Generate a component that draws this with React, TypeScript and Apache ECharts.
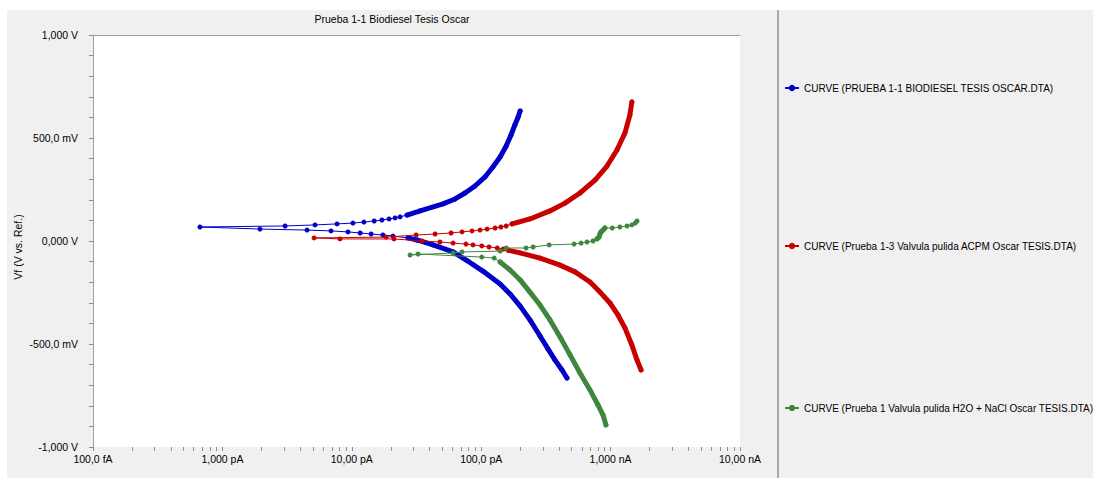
import React, { useEffect, useRef } from 'react';
import * as echarts from 'echarts';

const TITLE = 'Prueba 1-1 Biodiesel Tesis Oscar';
const Y_NAME = 'Vf (V vs. Ref.)';
const X_NAME = 'Im (A)';

const seriesNames = [
  'CURVE (PRUEBA 1-1 BIODIESEL TESIS OSCAR.DTA)',
  'CURVE (Prueba 1-3 Valvula pulida ACPM Oscar TESIS.DTA)',
  'CURVE (Prueba 1 Valvula pulida H2O + NaCl Oscar TESIS.DTA)',
];
const seriesColors = ['#0000c8', '#c80000', '#3f873f'];

const xLabelValues = [1e-13, 1e-12, 1e-11, 1e-10, 1e-9, 1e-8];
const xLabelTexts = ['100,0 fA', '1,000 pA', '10,00 pA', '100,0 pA', '1,000 nA', '10,00 nA'];
const xMinorMantissas = [1, 2, 3, 4, 5, 6, 7, 8, 9];
const yTickValues = [-1, -0.5, 0, 0.5, 1];
const yTickTexts = ['-1,000 V', '-500,0 mV', '0,000 V', '500,0 mV', '1,000 V'];

// [current (A), potential (V)] in sweep order
const blueCathodic = [
  [4.6e-10, -0.665], [4.21e-10, -0.626], [3.72e-10, -0.578], [3.28e-10, -0.524], [2.85e-10, -0.461],
  [2.38e-10, -0.383], [2.0e-10, -0.316], [1.67e-10, -0.257], [1.4e-10, -0.209], [1.03e-10, -0.146],
  [7.77e-11, -0.095], [6.06e-11, -0.053], [4.24e-11, -0.019], [3.19e-11, 0.005], [2.72e-11, 0.015],
];
const blueMid = [
  [2.08e-11, 0.024], [1.74e-11, 0.029], [1.41e-11, 0.034], [1.16e-11, 0.039], [9.35e-12, 0.044],
  [6.91e-12, 0.049], [4.51e-12, 0.053], [1.95e-12, 0.058], [6.71e-13, 0.068], [3.05e-12, 0.073],
  [5.2e-12, 0.078], [7.69e-12, 0.083], [1.02e-11, 0.087], [1.24e-11, 0.092], [1.49e-11, 0.097],
  [1.71e-11, 0.102], [1.94e-11, 0.107], [2.16e-11, 0.112], [2.36e-11, 0.117],
];
const blueAnodic = [
  [2.67e-11, 0.126], [3.37e-11, 0.146], [5.07e-11, 0.18], [6.28e-11, 0.204], [7.5e-11, 0.233],
  [8.96e-11, 0.267], [1.07e-10, 0.311], [1.23e-10, 0.359], [1.4e-10, 0.408], [1.56e-10, 0.461],
  [1.7e-10, 0.515], [1.82e-10, 0.563], [1.93e-10, 0.602], [2.0e-10, 0.631],
];

const redCathodic = [
  [1.72e-9, -0.626], [1.6e-9, -0.578], [1.46e-9, -0.505], [1.29e-9, -0.422], [1.14e-9, -0.359],
  [9.89e-10, -0.301], [8.28e-10, -0.248], [6.93e-10, -0.199], [5.31e-10, -0.15], [4.07e-10, -0.117],
  [2.85e-10, -0.083], [2.0e-10, -0.058], [1.61e-10, -0.044],
];
const redMid = [
  [1.48e-10, -0.039], [1.33e-10, -0.034], [1.15e-10, -0.029], [1.01e-10, -0.024], [8.64e-11, -0.019],
  [7.63e-11, -0.015], [6.06e-11, -0.01], [4.8e-11, -0.005], [3.49e-11, 0.0], [2.12e-11, 0.01],
  [8.11e-12, 0.01], [5.11e-12, 0.015], [1.84e-11, 0.019], [3.14e-11, 0.029], [4.4e-11, 0.034],
  [5.85e-11, 0.039], [7.11e-11, 0.044], [8.49e-11, 0.049], [9.79e-11, 0.053], [1.11e-10, 0.058],
  [1.28e-10, 0.063], [1.42e-10, 0.068], [1.56e-10, 0.073],
];
const redAnodic = [
  [1.73e-10, 0.083], [2.38e-10, 0.107], [3.4e-10, 0.146], [4.44e-10, 0.184], [5.8e-10, 0.233],
  [7.58e-10, 0.296], [9.38e-10, 0.364], [1.12e-9, 0.442], [1.29e-9, 0.524], [1.41e-9, 0.612],
  [1.46e-9, 0.675],
];

const greenCathodic = [
  [9.21e-10, -0.893], [8.74e-10, -0.845], [7.99e-10, -0.796], [6.93e-10, -0.723], [5.8e-10, -0.641],
  [4.86e-10, -0.553], [4.07e-10, -0.466], [3.4e-10, -0.383], [2.85e-10, -0.311], [2.38e-10, -0.248],
  [2.0e-10, -0.189], [1.67e-10, -0.141], [1.4e-10, -0.102],
];
const greenMid = [
  [1.26e-10, -0.083], [1.01e-10, -0.078], [3.25e-11, -0.063], [2.82e-11, -0.068], [6.06e-11, -0.058],
  [7.11e-11, -0.053], [1.4e-10, -0.049], [1.56e-10, -0.034], [2.22e-10, -0.034], [2.52e-10, -0.029],
  [3.35e-10, -0.019], [5.22e-10, -0.015], [5.91e-10, -0.01], [6.57e-10, -0.005], [7.31e-10, 0.0],
];
const greenAnodic = [
  [7.85e-10, 0.01], [8.14e-10, 0.019], [8.28e-10, 0.034], [8.43e-10, 0.044], [8.74e-10, 0.053],
  [9.05e-10, 0.063],
];
const greenTail = [
  [1.03e-9, 0.063], [1.18e-9, 0.068], [1.34e-9, 0.073], [1.46e-9, 0.078], [1.55e-9, 0.087],
  [1.6e-9, 0.097],
];

const curves = [
  { parts: [blueCathodic, blueMid, blueAnodic], dense: [blueCathodic, blueAnodic] },
  { parts: [redCathodic, redMid, redAnodic], dense: [redCathodic, redAnodic] },
  { parts: [greenCathodic, greenMid, greenAnodic, greenTail], dense: [greenCathodic, greenAnodic] },
];

const FONT = 'Arial, "Liberation Sans", sans-serif';

export default function App() {
  const ref = useRef<HTMLDivElement>(null);

  useEffect(() => {
    if (!ref.current) return;
    const chart = echarts.init(ref.current, undefined, { renderer: 'svg' });

    const xTickValues: number[] = [];
    for (let d = 0; d < xLabelValues.length - 1; d++) {
      for (const m of xMinorMantissas) xTickValues.push(m * xLabelValues[d]);
    }
    xTickValues.push(xLabelValues[xLabelValues.length - 1]);

    const xFormatter = (v: number) => {
      const i = xLabelValues.findIndex((d) => Math.abs(Math.log10(v) - Math.log10(d)) < 1e-6);
      return i >= 0 ? xLabelTexts[i] : '';
    };
    const yFormatter = (v: number) => {
      const i = yTickValues.findIndex((t) => Math.abs(t - v) < 1e-9);
      return i >= 0 ? yTickTexts[i] : '';
    };

    const series: any[] = [];
    curves.forEach((c, ci) => {
      c.dense.forEach((seg) => {
        series.push({
          type: 'line',
          name: 'dense-' + ci,
          data: seg,
          symbol: 'none',
          silent: true,
          lineStyle: { color: seriesColors[ci], width: 5, cap: 'round', join: 'round' },
          z: 2 + ci,
        });
      });
      series.push({
        type: 'line',
        name: seriesNames[ci],
        data: ([] as number[][]).concat(...c.parts),
        symbol: 'circle',
        symbolSize: 5,
        itemStyle: { color: seriesColors[ci] },
        lineStyle: { color: seriesColors[ci], width: 1 },
        z: 2 + ci,
      });
    });

    const legendTops = [73, 231, 393];

    chart.setOption({
      animation: false,
      backgroundColor: '#f0f0f0',
      textStyle: { fontFamily: FONT },
      grid: {
        left: 86,
        top: 25,
        width: 647,
        height: 412,
        show: true,
        backgroundColor: '#ffffff',
        borderWidth: 0,
      },
      xAxis: [
        {
          type: 'log',
          logBase: 10,
          min: 1e-13,
          max: 1e-8,
          position: 'bottom',
          axisLine: { show: false, onZero: false },
          axisTick: { show: true, length: 4, customValues: xTickValues, lineStyle: { color: '#8c8c8c' } },
          axisLabel: {
            customValues: xLabelValues,
            formatter: xFormatter,
            margin: 6,
            fontSize: 10.5,
            color: '#000',
            fontFamily: FONT,
          },
          splitLine: { show: false },
          minorTick: { show: false },
        },
        {
          type: 'log',
          logBase: 10,
          min: 1e-13,
          max: 1e-8,
          position: 'top',
          axisLine: { show: true, onZero: false, lineStyle: { color: '#a0a0a0', width: 1 } },
          axisTick: { show: false },
          axisLabel: { show: false },
          splitLine: { show: false },
        },
      ],
      yAxis: {
        type: 'value',
        min: -1,
        max: 1,
        interval: 0.5,
        axisLine: { show: true, onZero: false, lineStyle: { color: '#a0a0a0', width: 1 } },
        axisTick: { show: true, length: 4, lineStyle: { color: '#8c8c8c' } },
        minorTick: { show: true, splitNumber: 5, length: 4, lineStyle: { color: '#8c8c8c' } },
        splitLine: { show: false },
        axisLabel: { formatter: yFormatter, margin: 15, fontSize: 10.5, color: '#000', fontFamily: FONT },
      },
      legend: seriesNames.map((n, i) => ({
        data: [n],
        orient: 'vertical',
        left: 777,
        top: legendTops[i],
        padding: 0,
        itemWidth: 14,
        itemHeight: 8,
        selectedMode: false,
        textStyle: { fontSize: 10, color: '#000', fontFamily: FONT },
      })),
      graphic: [
        {
          type: 'text',
          x: 385,
          y: 9,
          style: {
            text: TITLE,
            fontSize: 10.5,
            fill: '#000',
            fontFamily: FONT,
            textAlign: 'center',
            textVerticalAlign: 'middle',
          },
        },
        {
          type: 'text',
          x: 11,
          y: 237,
          rotation: Math.PI / 2,
          style: {
            text: Y_NAME,
            fontSize: 10.5,
            fill: '#000',
            fontFamily: FONT,
            textAlign: 'center',
            textVerticalAlign: 'middle',
          },
        },
        {
          type: 'text',
          x: 382,
          y: 466,
          style: { text: X_NAME, fontSize: 10.5, fill: '#000', fontFamily: FONT, textAlign: 'center' },
        },
        {
          type: 'rect',
          shape: { x: 770, y: 0, width: 2, height: 480 },
          style: { fill: '#a8a8a8' },
          silent: true,
        },
      ],
      series,
    });

    return () => chart.dispose();
  }, []);

  return (
    <div
      style={{
        position: 'fixed',
        left: 7,
        top: 10,
        width: 1100,
        height: 468,
        overflow: 'hidden',
      }}
    >
      <div ref={ref} style={{ width: 1100, height: 480 }} />
    </div>
  );
}
